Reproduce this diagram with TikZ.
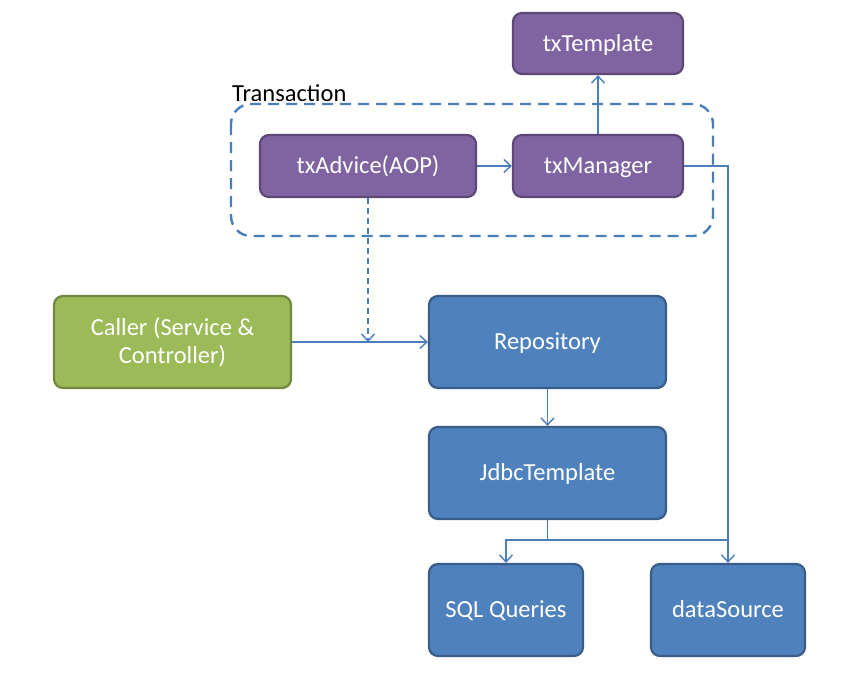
\documentclass[tikz,border=0pt]{standalone}
\usepackage{fontspec}
\setmainfont{Carlito}
\usetikzlibrary{arrows.meta}
\definecolor{pfill}{HTML}{8064A2}
\definecolor{pline}{HTML}{5C4776}
\definecolor{bfill}{HTML}{4F81BD}
\definecolor{bline}{HTML}{385D8A}
\definecolor{gfill}{HTML}{9BBB59}
\definecolor{gline}{HTML}{71893F}
\definecolor{conn}{HTML}{4A7EBB}
\tikzset{
  box/.style={rounded corners=9pt, line width=2.2pt, text=white, font=\fontsize{24.5}{28}\selectfont, align=center, inner sep=0pt},
  one/.style={text height=15.5pt, text depth=0pt},
  pbox/.style={box, one, fill=pfill, draw=pline},
  bbox/.style={box, one, fill=bfill, draw=bline},
  gbox/.style={box, fill=gfill, draw=gline},
  conline/.style={draw=conn, line width=1.4pt},
  arr/.style={conline, -{Straight Barb[length=7pt, width=13pt, line width=1.4pt]}},
}
\begin{document}
\begin{tikzpicture}[x=1pt,y=-1pt]
\useasboundingbox (0,0) rectangle (863,673);
\fill[white] (0,0) rectangle (863,673);
% transaction group
\draw[conn, line width=2.4pt, dash pattern=on 11pt off 7pt, rounded corners=20pt] (231,104) rectangle (713,236);
\node[anchor=base west, font=\fontsize{24.5}{28}\selectfont, inner sep=0pt] (tlabel) at (232,101) {Transaction};
% nodes
\node[pbox, minimum width=170pt, minimum height=61pt] (tpl) at (598,43.5) {txTemplate};
\node[pbox, minimum width=216pt, minimum height=62pt] (adv) at (368,166) {txAdvice(AOP)};
\node[pbox, minimum width=170pt, minimum height=62pt] (mgr) at (598,166) {txManager};
\node[gbox, minimum width=237pt, minimum height=92pt] (caller) at (172.5,342) {Caller (Service \&\\Controller)};
\node[bbox, minimum width=237pt, minimum height=92pt] (repo) at (547.5,342) {Repository};
\node[bbox, minimum width=237pt, minimum height=92pt] (jdbc) at (547.5,473) {JdbcTemplate};
\node[bbox, minimum width=154pt, minimum height=92pt] (sql) at (506,610) {SQL Queries};
\node[bbox, minimum width=154pt, minimum height=92pt] (ds) at (728,610) {dataSource};
% connectors
\coordinate (split) at (547.5,540);
\coordinate (join) at (728,540);
\coordinate (mcorner) at (728,166);
\coordinate (advhit) at (368,342);
\draw[arr] (mgr.north) -- (tpl.south);
\draw[arr] (adv.east) -- (mgr.west);
\draw[arr] (mgr.east) -- (mcorner) -- (ds.north);
\draw[arr, dash pattern=on 6pt off 4pt] (adv.south) -- (advhit);
\draw[arr] (caller.east) -- (repo.west);
\draw[arr] (repo.south) -- (jdbc.north);
\draw[arr] (jdbc.south) -- (split) -| (sql.north);
\draw[conline] (split) -- (join);
\end{tikzpicture}
\end{document}
